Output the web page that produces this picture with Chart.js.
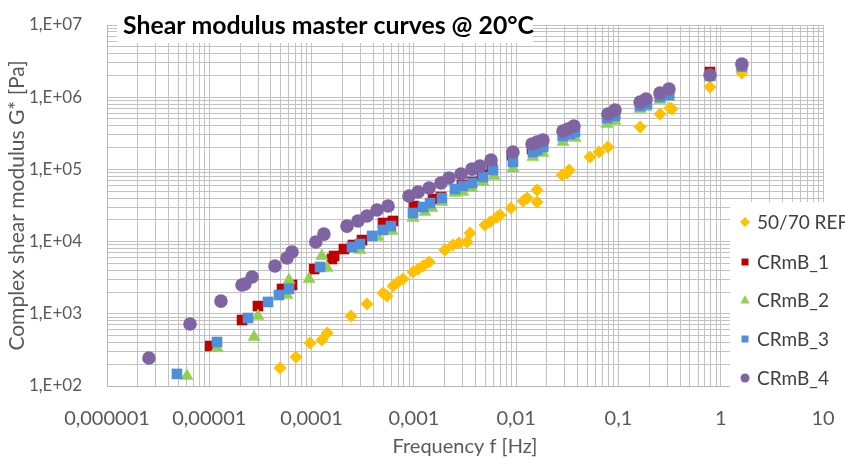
<!DOCTYPE html>
<html><head><meta charset="utf-8">
<script src="https://cdn.jsdelivr.net/npm/chart.js@4"></script>
<style>html,body{margin:0;padding:0;background:#fff}#wrap{width:845px;height:459px;position:relative}</style>
</head><body><div id="wrap"><canvas id="c" width="845" height="459"></canvas></div>
<script>
const chartTitle = 'Shear modulus master curves @ 20°C';
const xTitle = 'Frequency f [Hz]';
const yTitle = 'Complex shear modulus G* [Pa]';
const seriesNames = ['50/70 REF', 'CRmB_1', 'CRmB_2', 'CRmB_3', 'CRmB_4'];

const xTickValues = [1e-6, 1e-5, 1e-4, 1e-3, 1e-2, 1e-1, 1, 10];
const xTickLabels = ['0,000001', '0,00001', '0,0001', '0,001', '0,01', '0,1', '1', '10'];
const yTickValues = [1e2, 1e3, 1e4, 1e5, 1e6, 1e7];
const yTickLabels = ['1,E+02', '1,E+03', '1,E+04', '1,E+05', '1,E+06', '1,E+07'];

const ref_f = [4.91e-5,7.04e-5,9.65e-5,1.26e-4,1.42e-4,2.43e-4,3.48e-4,4.99e-4,5.46e-4,6.25e-4,7.00e-4,7.83e-4,9.80e-4,1.10e-3,1.23e-3,1.41e-3,2.01e-3,2.41e-3,2.76e-3,3.31e-3,3.54e-3,4.96e-3,5.55e-3,6.50e-3,6.95e-3,8.90e-3,1.17e-2,1.28e-2,1.60e-2,1.60e-2,2.81e-2,3.14e-2,3.29e-2,5.27e-2,6.46e-2,7.90e-2,0.163,0.255,0.319,0.334,0.785,1.61];
const ref_g = [178,252,394,434,542,932,1370,1940,1760,2430,2760,3030,3790,4170,4590,5220,7650,8970,9560,9870,13200,17000,18700,21900,23400,29200,36500,40200,35400,51800,83600,89100,98100,149000,174000,204000,386000,585000,708000,687000,1380000,2160000];

const crmb1_f = [1.02e-5,2.09e-5,2.99e-5,5.14e-5,6.44e-5,1.06e-4,1.58e-4,1.66e-4,2.07e-4,2.54e-4,3.11e-4,4.99e-4,6.25e-4,1.00e-3,1.54e-3,1.84e-3,2.95e-3,3.70e-3,4.63e-3,5.80e-3,9.11e-3,1.43e-2,1.60e-2,1.83e-2,2.87e-2,3.21e-2,3.67e-2,7.90e-2,9.25e-2,0.163,0.186,0.255,0.312,0.785,1.61];
const crmb1_g = [358,821,1280,2210,2510,4170,5740,6320,7900,8970,10500,18100,19300,31100,38900,41500,60800,66900,83600,104000,158000,192000,204000,218000,290000,309000,340000,515000,585000,780000,858000,1040000,1140000,2230000,2700000];

const crmb2_f = [6.05e-6,1.19e-5,2.74e-5,2.99e-5,5.75e-5,6.02e-5,9.44e-5,1.26e-4,1.42e-4,2.97e-4,4.46e-4,6.11e-4,9.80e-4,1.28e-3,1.50e-3,1.88e-3,2.52e-3,3.02e-3,3.70e-3,4.74e-3,6.07e-3,9.31e-3,1.46e-2,1.83e-2,2.87e-2,3.76e-2,7.73e-2,9.25e-2,0.163,0.186,0.255,0.312,0.785,1.61];
const crmb2_g = [138,336,477,932,1820,2940,3030,6320,4310,7650,11600,14000,21200,25700,29200,35400,47100,48600,55200,66900,81000,104000,149000,169000,240000,272000,425000,468000,687000,731000,914000,1010000,1910000,2620000];

const crmb3_f = [4.83e-6,1.19e-5,2.39e-5,3.75e-5,4.80e-5,6.02e-5,1.21e-4,2.48e-4,2.97e-4,3.90e-4,4.99e-4,5.97e-4,9.80e-4,1.23e-3,1.44e-3,1.88e-3,2.52e-3,3.02e-3,3.70e-3,4.74e-3,5.94e-3,9.31e-3,1.46e-2,1.60e-2,1.83e-2,2.87e-2,3.36e-2,3.76e-2,7.73e-2,9.25e-2,0.163,0.190,0.255,0.312,0.785,1.61];
const crmb3_g = [147,407,875,1460,1820,2210,4450,8420,9270,12000,14500,16400,24900,30100,34200,40200,53500,58900,64800,78500,98100,127000,174000,186000,204000,290000,309000,330000,515000,549000,755000,805000,1010000,1070000,1970000,2700000];

const crmb4_f = [2.57e-6,6.48e-6,1.30e-5,2.09e-5,2.23e-5,2.62e-5,4.39e-5,5.75e-5,6.44e-5,1.10e-4,1.32e-4,2.22e-4,2.84e-4,3.48e-4,4.36e-4,5.59e-4,8.96e-4,1.10e-3,1.41e-3,1.84e-3,2.20e-3,2.89e-3,3.70e-3,4.43e-3,5.68e-3,9.31e-3,1.43e-2,1.60e-2,1.83e-2,2.87e-2,3.21e-2,3.67e-2,7.90e-2,9.25e-2,0.163,0.186,0.255,0.312,0.785,1.61];
const crmb4_g = [244,722,1500,2510,2590,3230,4590,5930,7180,9870,12700,16400,19300,22600,27400,31100,42800,48600,55200,64800,76000,86300,101000,111000,135000,174000,225000,240000,255000,340000,363000,399000,585000,665000,858000,944000,1140000,1300000,2030000,2880000];

const colors = ['#FFC000', '#C00000', '#92D050', '#4F8FDB', '#8064A2'];
const shapes = ['rectRot', 'rect', 'triangle', 'rect', 'circle'];
const radii = [6.5, 7.5, 7.5, 7.5, 6.8];

const fs = [ref_f, crmb1_f, crmb2_f, crmb3_f, crmb4_f];
const gs = [ref_g, crmb1_g, crmb2_g, crmb3_g, crmb4_g];

function toPts(f, g) { return f.map((x, i) => ({ x: x, y: g[i] })); }

const datasets = seriesNames.map((name, i) => ({
  label: name,
  data: toPts(fs[i], gs[i]),
  backgroundColor: colors[i],
  borderColor: colors[i],
  borderWidth: 0,
  pointStyle: shapes[i],
  pointRadius: radii[i],
  pointHoverRadius: radii[i],
  order: seriesNames.length - i,
  showLine: false
}));

function logTicks(decades) {
  const out = [];
  for (let d = 0; d < decades.length; d++) {
    out.push({ value: decades[d] });
    if (d < decades.length - 1) {
      for (let k = 2; k <= 9; k++) out.push({ value: decades[d] * k });
    }
  }
  return out;
}
function labelFor(v, vals, labs) {
  for (let i = 0; i < vals.length; i++) {
    if (Math.abs(Math.log10(v) - Math.log10(vals[i])) < 1e-6) return labs[i];
  }
  return '';
}

const gridColor = '#c2c2c2';
const tickColor = '#595959';

const decorPlugin = {
  id: 'decor',
  afterDraw(chart) {
    const ctx = chart.ctx;
    ctx.save();
    // title box
    ctx.fillStyle = '#ffffff';
    ctx.fillRect(117, 0, 416, 43);
    ctx.fillStyle = '#000000';
    ctx.font = 'bold 24.8px Lato';
    ctx.textBaseline = 'alphabetic';
    ctx.textAlign = 'left';
    ctx.fillText(chartTitle, 123, 34);
    // legend box
    ctx.fillStyle = '#ffffff';
    ctx.fillRect(730, 202, 115, 194);
    const ys = [222, 262, 300, 339, 378];
    ctx.font = '19px Lato';
    ctx.textBaseline = 'middle';
    for (let i = 0; i < seriesNames.length; i++) {
      const y = ys[i], x = 745;
      ctx.fillStyle = colors[i];
      ctx.beginPath();
      if (shapes[i] === 'rectRot') {
        ctx.moveTo(x, y - 5); ctx.lineTo(x + 5, y); ctx.lineTo(x, y + 5); ctx.lineTo(x - 5, y); ctx.closePath();
      } else if (shapes[i] === 'rect') {
        ctx.rect(x - 3.5, y - 3.5, 7, 7);
      } else if (shapes[i] === 'triangle') {
        ctx.moveTo(x, y - 5); ctx.lineTo(x + 4.5, y + 3.5); ctx.lineTo(x - 4.5, y + 3.5); ctx.closePath();
      } else {
        ctx.arc(x, y, 4.5, 0, Math.PI * 2);
      }
      ctx.fill();
      ctx.fillStyle = '#404040';
      ctx.fillText(seriesNames[i], 757, y + 1);
    }
    ctx.restore();
  }
};

new Chart(document.getElementById('c'), {
  type: 'scatter',
  data: { datasets: datasets },
  plugins: [decorPlugin],
  options: {
    responsive: false,
    animation: false,
    devicePixelRatio: 1,
    layout: { padding: { left: 0, top: 25, right: 22, bottom: 0 } },
    plugins: { legend: { display: false }, title: { display: false }, tooltip: { enabled: false } },
    scales: {
      x: {
        type: 'logarithmic',
        min: xTickValues[0],
        max: xTickValues[xTickValues.length - 1],
        afterBuildTicks: (s) => { s.ticks = logTicks(xTickValues); },
        afterFit: (s) => { s.height = 73; s.paddingLeft = 0; s.paddingRight = 0; s.paddingTop = 0; s.paddingBottom = 0; },
        ticks: {
          autoSkip: false, maxRotation: 0, minRotation: 0, padding: 21,
          color: tickColor, font: { family: 'Lato', size: 20 },
          callback: (v) => labelFor(v, xTickValues, xTickLabels)
        },
        grid: { color: gridColor, lineWidth: 1, drawTicks: false },
        border: { color: '#b4b4b4' },
        title: { display: true, text: xTitle, color: tickColor, font: { family: 'Lato', size: 20 }, padding: { top: 0, bottom: 0 } }
      },
      y: {
        type: 'logarithmic',
        min: yTickValues[0],
        max: yTickValues[yTickValues.length - 1],
        afterBuildTicks: (s) => { s.ticks = logTicks(yTickValues); },
        afterFit: (s) => { s.width = 107; s.paddingLeft = 0; s.paddingRight = 0; s.paddingTop = 0; s.paddingBottom = 0; },
        ticks: {
          autoSkip: false, padding: 25,
          color: tickColor, font: { family: 'Lato', size: 17 },
          callback: (v) => labelFor(v, yTickValues, yTickLabels)
        },
        grid: { color: gridColor, lineWidth: 1, drawTicks: false },
        border: { color: '#b4b4b4' },
        title: { display: true, text: yTitle, color: tickColor, font: { family: 'Lato', size: 21 }, padding: { top: 5, bottom: 0 } }
      }
    }
  }
});
</script></body></html>
